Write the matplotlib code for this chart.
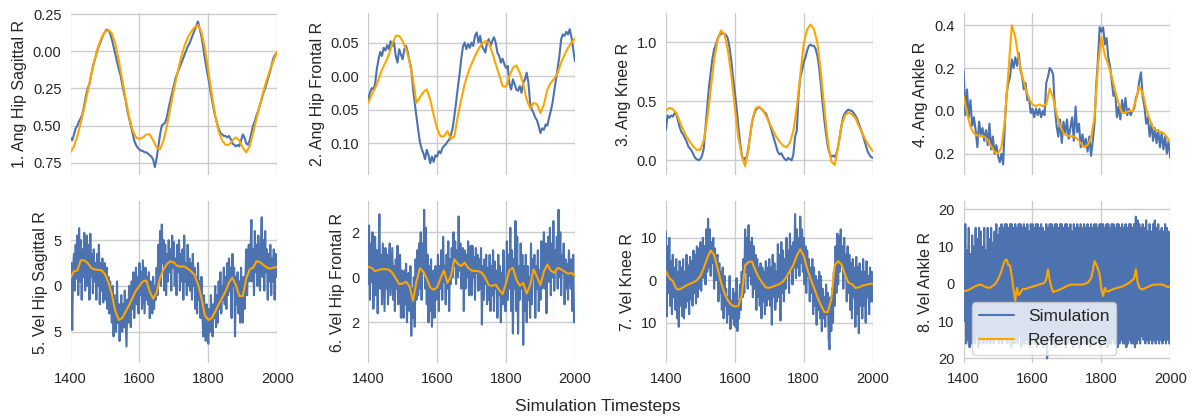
import numpy as np
import matplotlib
matplotlib.use("Agg")
import matplotlib.pyplot as plt
import seaborn as sns
from matplotlib.ticker import FuncFormatter

# ---------------- data ----------------
t_start, t_end = 1400, 2000

titles = ["1. Ang Hip Sagittal R", "2. Ang Hip Frontal R", "3. Ang Knee R", "4. Ang Ankle R",
          "5. Vel Hip Sagittal R", "6. Vel Hip Frontal R", "7. Vel Knee R", "8. Vel Ankle R"]

sim1 = [-0.58, -0.60, -0.56, -0.52, -0.50, -0.47, -0.45, -0.42, -0.36, -0.30,
        -0.25, -0.22, -0.16, -0.10, -0.06, -0.02, 0.02, 0.05, 0.08, 0.11,
        0.13, 0.145, 0.14, 0.12, 0.08, 0.03, -0.02, -0.07, -0.12, -0.16,
        -0.22, -0.28, -0.33, -0.40, -0.45, -0.50, -0.55, -0.60, -0.63, -0.65,
        -0.66, -0.67, -0.67, -0.68, -0.68, -0.69, -0.70, -0.71, -0.73, -0.78,
        -0.72, -0.64, -0.56, -0.50, -0.49, -0.48, -0.44, -0.38, -0.33, -0.28,
        -0.23, -0.18, -0.15, -0.12, -0.09, -0.06, -0.03, 0.00, 0.03, 0.05,
        0.08, 0.11, 0.14, 0.17, 0.20, 0.15, 0.10, 0.03, -0.05, -0.12,
        -0.18, -0.25, -0.32, -0.38, -0.44, -0.48, -0.52, -0.55, -0.56, -0.57,
        -0.57, -0.58, -0.57, -0.59, -0.62, -0.63, -0.64, -0.63, -0.64, -0.60,
        -0.56, -0.58, -0.62, -0.63, -0.60, -0.55, -0.50, -0.47, -0.43, -0.40,
        -0.36, -0.32, -0.28, -0.25, -0.21, -0.17, -0.13, -0.08, -0.04, -0.02,
        -0.01]
ref1 = [-0.68, -0.64, -0.57, -0.48, -0.38, -0.27, -0.16, -0.06, 0.03, 0.09,
        0.13, 0.143, 0.12, 0.05, -0.06, -0.19, -0.32, -0.44, -0.53, -0.58,
        -0.59, -0.58, -0.56, -0.56, -0.60, -0.65, -0.66, -0.60, -0.50, -0.38,
        -0.26, -0.15, -0.05, 0.03, 0.09, 0.13, 0.16, 0.175, 0.13, 0.02,
        -0.13, -0.29, -0.43, -0.54, -0.60, -0.63, -0.63, -0.60, -0.58, -0.60,
        -0.65, -0.68, -0.64, -0.55, -0.45, -0.36, -0.27, -0.19, -0.12, -0.06,
        0.00]

sim2 = [-0.035, -0.025, -0.018, -0.020, -0.012, 0.010, 0.025, 0.036, 0.030, 0.042,
        0.038, 0.046, 0.040, 0.052, 0.045, 0.050, 0.030, 0.020, 0.040, 0.032,
        0.025, 0.040, 0.045, 0.035, 0.022, 0.010, -0.018, -0.040, -0.060, -0.080,
        -0.098, -0.108, -0.115, -0.124, -0.110, -0.118, -0.130, -0.120, -0.128, -0.118,
        -0.120, -0.112, -0.115, -0.108, -0.104, -0.102, -0.098, -0.095, -0.088, -0.078,
        -0.060, -0.040, -0.018, 0.002, 0.025, 0.044, 0.050, 0.040, 0.048, 0.042,
        0.050, 0.045, 0.060, 0.065, 0.050, 0.060, 0.045, 0.040, 0.035, 0.050,
        0.055, 0.045, 0.052, 0.058, 0.050, 0.035, 0.030, 0.020, 0.026, 0.018,
        0.012, 0.015, -0.012, -0.020, -0.005, -0.012, -0.020, -0.022, -0.015, -0.025,
        -0.010, -0.005, 0.005, -0.010, -0.040, -0.050, -0.055, -0.062, -0.066, -0.075,
        -0.085, -0.078, -0.080, -0.072, -0.074, -0.062, -0.052, -0.040, -0.022, -0.005,
        0.012, 0.030, 0.055, 0.062, 0.060, 0.066, 0.062, 0.070, 0.058, 0.040,
        0.022]
ref2 = [-0.040, -0.028, -0.018, -0.005, 0.010, 0.020, 0.032, 0.048, 0.060, 0.060,
        0.052, 0.040, 0.022, -0.005, -0.040, -0.032, -0.024, -0.020, -0.035, -0.058,
        -0.078, -0.090, -0.090, -0.082, -0.094, -0.090, -0.060, -0.035, -0.012, 0.005,
        0.018, 0.030, 0.040, 0.048, 0.052, 0.050, 0.035, 0.018, 0.002, -0.015,
        -0.016, 0.000, 0.012, 0.016, 0.005, -0.012, -0.035, -0.048, -0.040, -0.042,
        -0.055, -0.042, -0.020, -0.010, -0.004, 0.005, 0.020, 0.032, 0.042, 0.050,
        0.056]

sim3 = [0.26, 0.38, 0.36, 0.38, 0.37, 0.40, 0.39, 0.34, 0.28, 0.24,
        0.22, 0.19, 0.16, 0.12, 0.10, 0.08, 0.05, 0.02, 0.01, 0.00,
        0.01, 0.04, 0.10, 0.28, 0.45, 0.62, 0.74, 0.86, 0.94, 0.98,
        1.03, 1.06, 1.07, 1.08, 1.07, 1.06, 1.03, 0.95, 0.84, 0.70,
        0.58, 0.45, 0.30, 0.16, 0.05, 0.00, 0.02, 0.03, 0.12, 0.22,
        0.32, 0.38, 0.42, 0.44, 0.45, 0.44, 0.43, 0.41, 0.40, 0.36,
        0.32, 0.27, 0.22, 0.17, 0.12, 0.07, 0.05, 0.06, 0.03, 0.01,
        0.00, 0.02, 0.01, 0.00, 0.05, 0.20, 0.25, 0.55, 0.70, 0.76,
        0.83, 0.87, 0.93, 0.97, 0.98, 0.97, 0.97, 0.94, 0.88, 0.78,
        0.64, 0.48, 0.34, 0.22, 0.12, 0.06, 0.03, 0.04, 0.03, 0.06,
        0.12, 0.21, 0.30, 0.37, 0.40, 0.42, 0.43, 0.42, 0.42, 0.40,
        0.38, 0.35, 0.31, 0.27, 0.23, 0.18, 0.13, 0.08, 0.05, 0.03,
        0.02]
ref3 = [0.42, 0.445, 0.435, 0.40, 0.33, 0.26, 0.20, 0.155, 0.115, 0.088,
        0.09, 0.17, 0.35, 0.60, 0.85, 1.02, 1.10, 1.07, 0.93, 0.72,
        0.45, 0.20, 0.04, -0.05, 0.10, 0.33, 0.44, 0.455, 0.43, 0.38,
        0.32, 0.26, 0.20, 0.16, 0.125, 0.11, 0.15, 0.25, 0.45, 0.72,
        0.99, 1.11, 1.15, 1.11, 0.99, 0.74, 0.44, 0.16, -0.01, -0.04,
        0.12, 0.30, 0.38, 0.405, 0.39, 0.36, 0.29, 0.23, 0.17, 0.12,
        0.08]

sim4 = [0.19, -0.02, 0.10, -0.03, 0.05, -0.07, -0.03, -0.09, -0.17, -0.05,
        -0.11, -0.08, -0.14, -0.09, -0.16, -0.06, -0.18, -0.12, -0.20, -0.16,
        -0.21, -0.24, -0.20, -0.25, -0.05, 0.08, 0.13, 0.16, 0.24, 0.20,
        0.25, 0.21, 0.27, 0.19, 0.16, 0.10, 0.13, 0.05, 0.06, -0.01,
        0.01, -0.03, 0.01, -0.02, 0.01, -0.03, 0.00, -0.02, 0.13, 0.16,
        0.20, 0.19, 0.17, 0.01, -0.07, -0.12, -0.04, -0.15, -0.05, -0.11,
        -0.04, -0.13, -0.08, -0.03, -0.14, 0.02, -0.10, -0.06, -0.17, -0.11,
        -0.16, -0.13, -0.19, -0.12, -0.21, -0.14, -0.06, 0.12, 0.24, 0.39,
        0.37, 0.39, 0.31, 0.34, 0.25, 0.21, 0.14, 0.07, 0.09, -0.03,
        0.02, -0.04, 0.05, -0.01, 0.06, -0.02, 0.01, -0.02, 0.00, 0.01,
        0.06, 0.08, 0.14, 0.18, 0.06, 0.02, -0.06, -0.03, -0.12, -0.06,
        -0.14, -0.08, -0.15, -0.09, -0.17, -0.10, -0.18, -0.12, -0.20, -0.14,
        -0.22]
ref4 = [0.068, -0.009, -0.075, -0.105, -0.115, -0.117, -0.120, -0.135, -0.165, -0.192,
        -0.199, -0.170, -0.040, 0.180, 0.400, 0.345, 0.240, 0.165, 0.105, 0.055,
        0.030, 0.022, 0.030, 0.022, 0.030, 0.105, 0.060, -0.015, -0.070, -0.103,
        -0.115, -0.118, -0.120, -0.130, -0.150, -0.170, -0.160, -0.125, -0.030, 0.210,
        0.345, 0.260, 0.216, 0.160, 0.090, 0.035, -0.010, -0.010, 0.000, -0.002,
        0.050, 0.112, 0.085, 0.010, -0.040, -0.078, -0.092, -0.098, -0.103, -0.122,
        -0.149]

sim5 = [-2.8, 2.5, -4.8, 1.8, 3.5, -0.5, 4.5, 0.8, 5.5, -1.0,
        6.3, 0.5, 5.0, -1.5, 4.0, 1.0, 5.8, -0.5, 3.0, 5.5,
        0.0, 4.5, -1.5, 5.7, 1.0, 3.5, -0.8, 4.0, 0.5, 2.5,
        -1.5, 3.5, 0.0, 4.5, -2.0, 2.5, -0.5, 3.0, -1.8, 1.5,
        2.5, -1.5, 2.0, -2.5, 1.0, -3.0, 0.5, -1.5, -4.0, 0.0,
        -5.5, -1.0, -3.0, -5.0, 0.5, -4.0, -2.0, -6.0, -3.0, -1.0,
        -5.0, -2.0, -4.5, -0.5, -3.5, -6.6, -1.5, -4.0, 0.0, -3.0,
        -4.5, 0.5, -2.5, 1.5, -3.5, -0.5, 2.0, -2.0, 1.0, -3.0,
        2.5, -1.0, 1.5, -2.5, 2.8, 0.0, -3.0, 2.0, -1.5, 1.0,
        -2.0, 1.5, -3.5, 0.5, -1.0, -3.0, 1.0, -2.5, 0.0, -1.5,
        2.0, -1.0, 4.5, 1.0, 6.0, 0.0, 6.7, 2.5, 5.0, -0.5,
        4.5, -1.0, 3.5, 0.5, 5.0, 1.5, 4.0, -0.5, 5.5, 2.0,
        4.8, 0.0, 3.0, -1.0, 4.5, 1.5, 5.0, -0.5, 3.5, 0.5,
        4.0, -1.5, 5.5, 0.5, 2.5, -1.0, 4.5, 0.0, 3.0, -0.5,
        2.5, -1.5, 3.5, 0.0, 2.0, -2.5, 1.0, -3.0, 2.5, -1.5,
        0.5, -3.5, 1.0, -2.5, -5.5, -1.0, -4.0, -6.0, -2.0, -5.0,
        -6.3, -2.5, -5.0, -1.0, -4.0, -5.5, -2.0, -3.5, 0.0, -4.5,
        -1.0, -4.0, 0.5, -2.5, 1.5, -3.0, 0.0, -1.5, 2.0, -2.0,
        1.0, -2.5, 2.5, -1.0, 3.0, -0.5, 2.0, -3.5, 3.5, 0.0,
        2.0, -5.5, 1.0, -2.0, 1.5, -3.0, 0.5, -4.0, 2.0, -1.5,
        -4.0, 1.0, -2.5, 0.5, 4.0, -1.0, 2.5, 4.5, 0.5, 3.5,
        7.2, 0.5, 4.0, -1.0, 6.0, 1.5, 4.5, 0.0, 5.5, 2.0,
        -0.5, 4.5, 7.5, 1.0, 5.0, -0.5, 6.0, 1.5, 4.0, -1.5,
        3.5, 0.5, 4.5, -1.0, 3.0, 0.5, 4.0, -1.5, 3.5, 1.0,
        2.5]
ref5 = [0.9, 1.6, 1.7, 2.8, 2.8, 2.5, 2.0, 1.8, 1.75, 1.7,
        1.3, 0.4, -0.9, -2.7, -3.7, -3.5, -2.8, -2.1, -1.3, -0.5,
        0.0, 0.5, 0.6, -0.6, -1.4, -0.7, 0.9, 1.8, 2.4, 2.7,
        2.55, 2.2, 2.1, 2.15, 1.9, 1.6, 1.2, 0.2, -1.3, -3.2,
        -3.7, -3.5, -2.8, -2.0, -1.3, -0.6, 0.4, 0.9, 0.1, -1.1,
        -1.1, 0.8, 1.8, 2.0, 2.7, 2.6, 2.3, 2.0, 1.9, 2.0,
        2.1]

sim6 = [-0.3, 2.3, -1.0, 1.5, -0.2, 2.0, -1.4, 0.5, 1.8, -0.8,
        1.2, -1.6, 0.8, 2.8, -0.5, 1.0, -1.2, 1.5, 0.0, -1.5,
        1.3, -0.5, 1.0, -1.2, 0.6, 1.5, -0.8, 0.2, 1.3, -1.0,
        0.5, -1.5, 0.8, -0.5, 1.4, -1.2, 0.0, 1.0, -1.8, 0.3,
        -0.5, -1.8, 0.3, -1.2, 0.6, -2.0, -0.5, 0.2, -1.5, 0.5,
        -2.6, -0.5, -1.8, 0.0, -2.2, 0.8, -1.0, 1.2, -0.8, 1.5,
        -0.5, 2.0, -1.0, 1.5, 0.2, 3.0, -0.5, 2.2, -1.2, 1.0,
        -2.0, 0.5, -1.5, 0.8, -2.2, -0.5, 0.3, -1.8, 0.5, -1.0,
        -0.8, 1.0, -1.5, 0.5, -0.5, 1.2, -1.0, 1.8, -0.2, 0.5,
        -1.2, 1.0, -0.5, 1.6, -1.5, 0.8, -0.3, 1.3, 0.0, 2.0,
        0.5, 1.6, -0.3, 1.2, 0.0, 2.7, 0.3, 1.5, -0.5, 1.0,
        1.3, -1.5, 1.2, -0.5, 1.0, 0.0, 1.6, -0.8, 0.5, 1.4,
        -0.8, 1.4, 0.0, 0.9, -1.0, 1.3, 0.2, 1.0, -0.6, 0.8,
        -0.5, 1.3, -2.1, 0.5, -1.0, 0.8, -0.3, 1.0, -1.2, 0.4,
        -1.0, 1.0, -1.5, 0.5, -0.8, 1.2, -1.5, 0.7, -0.5, 0.3,
        -1.8, 1.0, -0.8, 0.5, -2.0, 0.2, -1.2, 1.2, -0.5, -1.5,
        -1.5, 1.6, -1.0, 1.0, -0.5, 2.2, -1.5, 1.2, -2.5, 0.8,
        -0.5, 2.5, -1.5, 1.8, -2.5, 0.5, -1.0, 1.5, -0.5, 1.0,
        -3.0, 0.5, -1.5, 1.0, -2.0, 0.5, -1.0, 0.0, -1.8, 1.5,
        -1.2, 0.8, 0.0, 1.0, -1.8, 0.5, -0.5, 1.2, -1.5, 0.3,
        -1.0, 1.6, -0.5, 1.0, 2.0, -0.5, 1.5, -1.6, 0.5, 1.8,
        -0.2, 2.2, -0.8, 1.5, 0.0, 2.5, -0.6, 1.2, 0.3, 1.8,
        -0.5, 3.0, 0.0, 2.0, -0.8, 1.0, 0.2, 1.5, -1.2, 0.8,
        -0.5, 0.6, -1.0, 1.2, 0.3, -0.5, 0.8, -1.5, 1.0, -2.0,
        -1.8]
ref6 = [0.46, 0.42, 0.27, 0.33, 0.36, 0.36, 0.34, 0.20, -0.05, -0.30,
        -0.28, -0.20, -0.40, -1.05, -0.20, 0.40, 0.25, -0.05, -0.45, -0.55,
        -0.45, -0.05, 0.30, -0.25, 0.05, 0.80, 0.60, 0.50, 0.65, 0.42,
        0.30, 0.28, 0.27, 0.20, -0.03, -0.35, -0.38, -0.33, -0.55, -0.75,
        -0.25, 0.32, 0.42, -0.10, -0.38, -0.25, -0.72, -0.35, 0.35, 0.02,
        -0.35, 0.25, 0.57, 0.30, 0.20, 0.42, 0.35, 0.25, 0.16, 0.19,
        0.07]

sim7 = [11.5, -8.5, 8.0, -3.0, 10.0, -6.0, 4.5, -8.0, 6.0, -4.0,
        3.0, -7.0, 5.0, -9.0, 2.0, -11.0, 4.5, -6.0, 3.0, -8.5,
        5.0, -9.0, 2.0, -6.5, 6.0, -5.0, 3.5, -8.0, 5.5, -4.5,
        4.5, -6.0, 7.0, -3.0, 6.0, -5.5, 8.0, -4.0, 7.5, -2.0,
        9.0, -2.5, 6.0, 10.0, 0.5, 8.0, -1.0, 12.0, 2.0, 14.5,
        3.0, 12.0, 1.0, 9.0, 4.0, 10.0, -2.0, 7.5, 0.0, 5.0,
        6.0, -5.0, 4.0, -3.0, 2.0, -7.0, 3.0, -9.0, 1.0, -6.0,
        -2.0, -10.0, -4.0, -8.0, 1.0, -11.5, -5.0, -9.0, -2.0, -10.5,
        -3.0, -11.0, 0.5, -12.0, -5.0, -9.0, -1.0, -7.0, 2.0, -4.0,
        5.0, -3.0, 12.0, 2.0, 10.0, -2.0, 13.0, 1.0, 9.0, -1.0,
        10.0, -4.0, 8.0, -2.0, 6.0, -7.0, 5.0, -4.0, 3.0, -6.0,
        4.0, -9.0, 3.0, -5.0, 2.0, -8.0, 4.5, -6.0, 3.0, -4.5,
        5.0, -6.0, 3.0, -10.5, 6.0, -4.0, 4.0, -7.0, 2.0, -5.0,
        8.5, -4.0, 6.0, -9.5, 9.0, -3.0, 7.0, -5.0, 5.0, -2.0,
        10.0, 1.0, 7.0, -3.0, 11.0, 2.5, 8.0, -1.0, 9.0, 3.0,
        15.6, 0.5, 12.0, 3.0, 10.0, 1.0, 15.0, 4.0, 12.0, 2.0,
        10.0, -1.0, 8.0, -3.0, 7.0, 1.0, 5.0, -5.0, 3.0, -3.0,
        5.0, -8.0, 3.0, -6.0, 1.0, -10.5, 0.0, -7.0, 2.0, -9.0,
        1.0, -12.0, -2.0, -9.0, -4.0, -11.0, -1.0, -8.0, -3.0, -14.0,
        -16.3, -4.0, -12.0, -2.0, -10.0, 2.0, -6.0, 8.0, -3.0, 11.0,
        -1.0, 10.5, 2.0, 12.0, 4.0, 8.0, -2.0, 10.0, 1.0, 6.0,
        -5.0, 8.0, -3.0, 6.0, -7.0, 4.0, -9.0, 5.0, -4.0, 3.0,
        -11.0, 5.5, -8.0, 3.0, -12.5, 4.0, -6.0, 2.0, -9.0, 5.0,
        -6.0, 2.0, -10.0, 4.5, -4.0, 1.0, -8.0, 3.0, -5.0, 2.0,
        -5.0]
ref7 = [2.1, 0.5, -0.2, -2.0, -2.2, -1.7, -1.2, -0.85, -0.5, 0.0,
        1.0, 2.9, 5.2, 7.0, 6.0, 2.8, -0.5, -3.0, -4.8, -5.8,
        -6.2, -6.1, -3.6, 3.5, 4.3, 4.4, 2.3, 0.6, -0.6, -1.7,
        -1.8, -1.5, -1.2, -0.9, -0.3, 0.8, 2.2, 3.6, 5.8, 7.3,
        5.8, 2.8, 0.3, -1.8, -4.0, -5.9, -7.5, -7.5, -4.5, 3.5,
        4.5, 3.7, 1.3, -0.6, -0.9, -1.8, -1.7, -1.3, -1.1, -0.9,
        -0.8]

sim8 = [11, -10, 16, -16, 9, -15, 15, -17, 8, -16,
        13, -15, 10, -16, 15, -14, 12, -17, 15, -16,
        14, -15, 10, -16, 15, -14, 9, -16, 15, -15,
        12, -16, 15, -15, 11, -16, 14, -14, 16, -15,
        13, -16, 15, -15, 16, -16, 15, -14, 16, -15,
        16, -16, 15, -15, 16, -17, 16, -16, 15, -16,
        16, -15, 15, -16, 16, -14, 16, -17, 15, -16,
        16, -16, 15, -15, 16, -16, 14, -17, 16, -16,
        16, -15, 15, -16, 16, -17, 16, -15, 15, -16,
        16, -16, 15, -17, 14, -16, 16, -20, 15, -15,
        16, -15, 16, -16, 15, -16, 16, -17, 16, -16,
        15, -16, 16, -15, 16, -16, 15, -16, 16, -17,
        16, -16, 15, -15, 16, -16, 14, -17, 16, -16,
        15, -15, 16, -16, 15, -17, 16, -16, 15, -16,
        16, -16, 15, -15, 16, -16, 15, -17, 16, -15,
        15, -16, 16, -15, 16, -16, 15, -16, 16, -17,
        16, -15, 16, -16, 15, -16, 16, -17, 16, -16,
        15, -16, 16, -15, 16, -16, 15, -16, 16, -17,
        16, -16, 15, -15, 16, -16, 15, -16, 16, -17,
        15, -16, 16, -15, 16, -16, 15, -16, 16, -17,
        18, -16, 17, -15, 16, -16, 15, -14, 16, -15,
        15, -16, 17, -15, 14, -16, 16, -15, 14, -16,
        16, -15, 17, -16, 15, -15, 16, -16, 14, -15,
        15, -16, 14, -15, 16, -16, 15, -15, 14, -16,
        -15]
ref8 = [-2.0, -1.9, -1.8, -1.6, -1.4, -1.1, -0.8, -0.6, -0.4, -0.3,
        -0.2, -0.4, -0.7, -0.9, -1.0, -1.1, -0.9, -0.5, -0.2, 0.4,
        1.2, 2.2, 3.5, 5.0, 6.3, 6.5, 5.0, 4.9, 2.0, -1.5,
        -4.5, -1.1, -3.0, -2.5, -1.5, -1.4, -1.4, -1.2, -1.0, -0.9,
        -0.8, -0.6, -0.5, -0.3, -0.2, 0.0, 0.1, 0.3, 1.2, 3.9,
        1.0, -1.0, -2.2, -2.0, -1.9, -1.7, -1.5, -1.3, -1.1, -0.8,
        -0.6, -0.4, -0.2, -0.2, -0.2, -0.2, -0.2, -0.2, -0.2, -0.2,
        -0.1, 0.1, 0.3, 0.8, 1.5, 3.5, 6.1, 5.2, 4.0, 2.5,
        -1.5, -3.3, -1.1, -2.0, -2.0, -1.8, -1.6, -1.4, -1.3, -1.1,
        -1.0, -0.9, -0.8, -0.5, -0.3, 0.0, 0.2, 0.6, 1.0, 1.5,
        3.9, 0.5, -1.0, -1.4, -1.5, -1.3, -1.0, -0.8, -0.6, -0.4,
        -0.3, -0.2, -0.2, -0.2, -0.2, -0.2, -0.3, -0.5, -0.8, -0.8,
        -0.8]

sims = [sim1, sim2, sim3, sim4, sim5, sim6, sim7, sim8]
refs = [ref1, ref2, ref3, ref4, ref5, ref6, ref7, ref8]

yticks = [[-0.75, -0.5, -0.25, 0.0, 0.25], [-0.10, -0.05, 0.0, 0.05], [0.0, 0.5, 1.0],
          [-0.2, 0.0, 0.2, 0.4], [-5, 0, 5], [-2, 0, 2], [-10, 0, 10], [-20, -10, 0, 10, 20]]
yfmts = ["%.2f", "%.2f", "%.1f", "%.1f", "%d", "%d", "%d", "%d"]
ylims = [(-0.835, 0.257), (-0.148, 0.094), (-0.127, 1.248), (-0.301, 0.457),
         (-8.43, 9.27), (-3.82, 3.39), (-19.6, 18.7), (-21.3, 22.2)]
xticks = [1400, 1600, 1800, 2000]

# ---------------- style ----------------
sns.set_style("whitegrid")
plt.rcParams['font.family'] = ['Liberation Sans', 'DejaVu Sans']

fig, axes = plt.subplots(2, 4, figsize=(11.95, 4.18), dpi=100, sharex=True)
fig.subplots_adjust(left=70.5 / 1195, right=1170.3 / 1195, top=1 - 13 / 418,
                    bottom=1 - 363.3 / 418, wspace=0.44, hspace=0.158)

blue = "#4C72B0"
orange = "orange"

for i, ax in enumerate(axes.flat):
    s = np.asarray(sims[i], dtype=float)
    r = np.asarray(refs[i], dtype=float)
    ts = np.linspace(t_start, t_end, len(s))
    tr = np.linspace(t_start, t_end, len(r))
    ax.plot(ts, s, color=blue, lw=1.5, label="Simulation")
    ax.plot(tr, r, color=orange, lw=1.5, label="Reference")
    ax.set_xlim(t_start, t_end)
    ax.set_ylim(*ylims[i])
    ax.set_yticks(yticks[i])
    fmt = yfmts[i]
    ax.yaxis.set_major_formatter(FuncFormatter(lambda v, p, fmt=fmt: fmt % abs(v)))
    ax.set_xticks(xticks)
    ax.set_ylabel(titles[i], fontsize=11.5)
    ax.tick_params(axis='both', labelsize=10.5, length=0, pad=6.5, colors='#262626')
    ax.grid(True, color='0.8', lw=1)
    for sp in ax.spines.values():
        sp.set_visible(False)
    if i < 4:
        ax.tick_params(axis='x', labelbottom=False)

leg = axes[1, 3].legend(loc='lower left', bbox_to_anchor=(0.042, 0.051),
                        borderaxespad=0, fontsize=12.5, frameon=True)
fig.text(0.5, 1 - 407 / 418, "Simulation Timesteps", ha='center', va='center',
         fontsize=12.5, color='#262626')

fig.savefig("out.png", dpi=100)
